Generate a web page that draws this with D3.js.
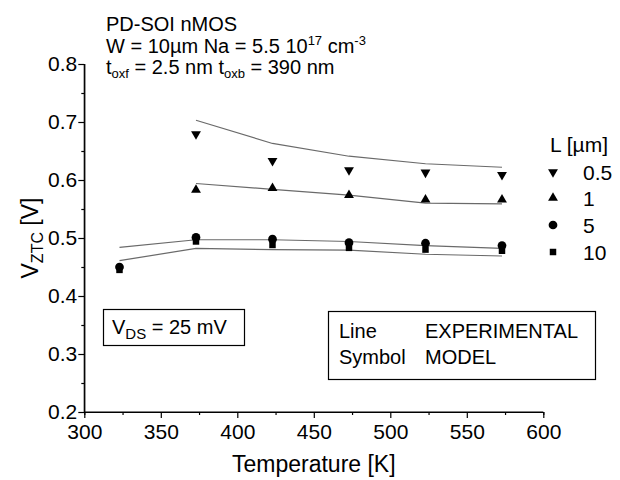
<!DOCTYPE html>
<html>
<head>
<meta charset="utf-8">
<script src="https://cdn.jsdelivr.net/npm/d3@7"></script>
<style>
  body { margin: 0; background: #fff; }
  svg text { font-family: "Liberation Sans", Arial, sans-serif; fill: #000; }
</style>
</head>
<body>
<div id="canvas"><svg width="620" height="480"></svg></div>
<script>
// temperatures (K)
var tempsAll = [323, 373, 423, 473, 523, 573];
var tempsHot = [373, 423, 473, 523, 573];

// model (symbols), L in um
var model05 = [0.679, 0.633, 0.617, 0.613, 0.609];
var model1 = [0.583, 0.586, 0.574, 0.566, 0.566];
var model5 = [0.450, 0.501, 0.498, 0.492, 0.491, 0.487];
var model10 = [0.445, 0.494, 0.488, 0.483, 0.480, 0.478];

// experimental (lines)
var exp05 = [0.703, 0.663, 0.641, 0.628, 0.622];
var exp1 = [0.594, 0.584, 0.574, 0.560, 0.559];
var exp5 = [0.484, 0.497, 0.497, 0.494, 0.487, 0.482];
var exp10 = [0.461, 0.482, 0.480, 0.479, 0.472, 0.469];

var legendLabels = ["0.5", "1", "5", "10"];
var xTicks = [300, 350, 400, 450, 500, 550, 600];
var yTicks = [0.2, 0.3, 0.4, 0.5, 0.6, 0.7, 0.8];

var svg = d3.select("#canvas svg");
var pLeft = 84.3, pRight = 543.3, pTop = 64, pBottom = 412;

var x = d3.scaleLinear().domain([300, 600]).range([pLeft, pRight]);
var y = d3.scaleLinear().domain([0.2, 0.8]).range([pBottom, pTop]);

function zip(ts, vs) {
    return ts.map(function (t, i) { return {t: t, v: vs[i]}; });
}

// axes
var fs = 21;
var yAxis = svg.append("g").attr("transform", "translate(" + pLeft + ",0)")
    .call(d3.axisLeft(y).tickValues(yTicks).tickSize(6).tickPadding(1).tickFormat(d3.format(".1f")));
svg.append("g").attr("transform", "translate(" + pLeft + ",0)")
    .call(d3.axisLeft(y).tickValues(d3.range(0.25, 0.8, 0.1)).tickSize(3).tickFormat(""));
var xAxis = svg.append("g").attr("transform", "translate(0," + pBottom + ")")
    .call(d3.axisBottom(x).tickValues(xTicks).tickSize(6).tickPadding(6));
svg.append("g").attr("transform", "translate(0," + pBottom + ")")
    .call(d3.axisBottom(x).tickValues(d3.range(325, 600, 50)).tickSize(3).tickFormat(""));

svg.selectAll(".domain").attr("stroke", "#000").attr("stroke-width", 1.2);
svg.selectAll(".tick line").attr("stroke", "#000").attr("stroke-width", 1.2);
svg.selectAll(".tick text").attr("font-size", fs).attr("font-family", "Liberation Sans, Arial, sans-serif");
// remove outer tick stubs of the domain path
yAxis.select(".domain").attr("d", "M0," + pTop + "V" + pBottom);
xAxis.select(".domain").attr("d", "M" + pLeft + ",0H" + pRight);

// axis titles
svg.append("text")
    .attr("x", (pLeft + pRight) / 2).attr("y", 472)
    .attr("text-anchor", "middle").attr("font-size", 23)
    .text("Temperature [K]");

var yl = svg.append("text")
    .attr("transform", "translate(38," + (pTop + pBottom) / 2 + ") rotate(-90)")
    .attr("text-anchor", "middle").attr("font-size", 23);
yl.append("tspan").text("V");
yl.append("tspan").attr("font-size", 16).attr("dy", 5).text("ZTC");
yl.append("tspan").attr("dy", -5).text(" [V]");

// experimental lines
var line = d3.line().x(function (d) { return x(d.t); }).y(function (d) { return y(d.v); });
var lines = [zip(tempsHot, exp05), zip(tempsHot, exp1), zip(tempsAll, exp5), zip(tempsAll, exp10)];
svg.append("g").selectAll("path").data(lines).enter().append("path")
    .attr("d", line)
    .attr("fill", "none")
    .attr("stroke", "#6a6a6a")
    .attr("stroke-width", 1.2);

// model symbols
var shapes = [
    d3.symbol().type(d3.symbolTriangle).size(42),
    d3.symbol().type(d3.symbolTriangle).size(42),
    d3.symbol().type(d3.symbolCircle).size(60),
    d3.symbol().type(d3.symbolSquare).size(42)
];
var rot = [180, 0, 0, 0];
// squares first so circles sit on top
var series = [
    {pts: zip(tempsAll, model10), k: 3},
    {pts: zip(tempsAll, model5), k: 2},
    {pts: zip(tempsHot, model1), k: 1},
    {pts: zip(tempsHot, model05), k: 0}
];
series.forEach(function (s) {
    svg.append("g").selectAll("path").data(s.pts).enter().append("path")
        .attr("d", shapes[s.k])
        .attr("transform", function (d) {
            return "translate(" + x(d.t) + "," + y(d.v) + ") rotate(" + rot[s.k] + ")";
        })
        .attr("fill", "#000");
});

// legend L [um]
svg.append("text").attr("x", 550).attr("y", 152).attr("font-size", fs).text("L [\u00b5m]");
var legY = [172, 198, 225, 252];
legendLabels.forEach(function (lab, i) {
    svg.append("path")
        .attr("d", shapes[i])
        .attr("transform", "translate(553," + legY[i] + ") rotate(" + rot[i] + ")")
        .attr("fill", "#000");
    svg.append("text").attr("x", 583).attr("y", legY[i] + 8).attr("font-size", fs).text(lab);
});

// header text
var hx = 106;
svg.append("text").attr("x", hx).attr("y", 31).attr("font-size", 20).text("PD-SOI nMOS");
var h2 = svg.append("text").attr("x", hx).attr("y", 53).attr("font-size", 20);
h2.append("tspan").text("W = 10\u00b5m Na = 5.5 10");
h2.append("tspan").attr("font-size", 13).attr("dy", -8).text("17");
h2.append("tspan").attr("dy", 8).text(" cm");
h2.append("tspan").attr("font-size", 13).attr("dy", -8).text("-3");
var h3 = svg.append("text").attr("x", hx).attr("y", 74).attr("font-size", 20);
h3.append("tspan").text("t");
h3.append("tspan").attr("font-size", 13).attr("dy", 4).text("oxf");
h3.append("tspan").attr("dy", -4).text(" = 2.5 nm t");
h3.append("tspan").attr("font-size", 13).attr("dy", 4).text("oxb");
h3.append("tspan").attr("dy", -4).text(" = 390 nm");

// V_DS box
svg.append("rect").attr("x", 103.5).attr("y", 309.5).attr("width", 141).attr("height", 36)
    .attr("fill", "none").attr("stroke", "#000").attr("stroke-width", 1.2);
var vd = svg.append("text").attr("x", 112).attr("y", 334).attr("font-size", 20);
vd.append("tspan").text("V");
vd.append("tspan").attr("font-size", 15).attr("dy", 5).text("DS");
vd.append("tspan").attr("dy", -5).text(" = 25 mV");

// line/symbol box
svg.append("rect").attr("x", 328.5).attr("y", 311.5).attr("width", 267).attr("height", 68)
    .attr("fill", "none").attr("stroke", "#000").attr("stroke-width", 1.2);
svg.append("text").attr("x", 339).attr("y", 338).attr("font-size", 20).text("Line");
svg.append("text").attr("x", 425).attr("y", 338).attr("font-size", 20).text("EXPERIMENTAL");
svg.append("text").attr("x", 339).attr("y", 364).attr("font-size", 20).text("Symbol");
svg.append("text").attr("x", 425).attr("y", 364).attr("font-size", 20).text("MODEL");
</script>
</body>
</html>
